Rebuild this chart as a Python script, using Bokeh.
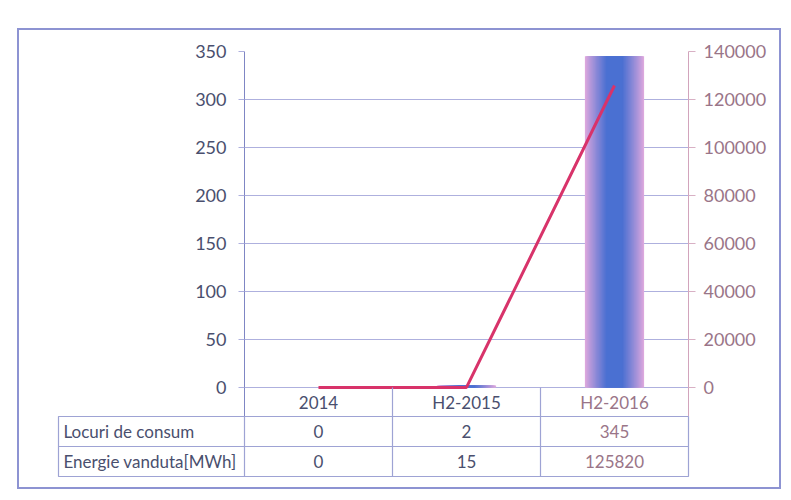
import numpy as np
from bokeh.plotting import figure
from bokeh.models import (Range1d, LinearAxis, FixedTicker, Column, BasicTickFormatter)
from bokeh.core.properties import value
from bokeh.embed import file_html
from bokeh.resources import INLINE

# ---------------- data ----------------
categories = ["2014", "H2-2015", "H2-2016"]
locuri_de_consum = [0, 2, 345]
energie_vanduta = [0, 15, 125820]
row_labels = ["Locuri de consum", "Energie vanduta[MWh]"]
left_ticks = [0, 50, 100, 150, 200, 250, 300, 350]
right_ticks = [0, 20000, 40000, 60000, 80000, 100000, 120000, 140000]

# ---------------- styles / layout ----------------
FONT = "Lato"
DARK = "#4a4f6e"
MAUVE = "#9a7588"
GRID = "#aeb0de"
TABLE_LINE = "#9ea3d4"
LINE_COL = "#d8336a"
col_text_colors = [DARK, DARK, MAUVE]

BORDER_L, BORDER_T, BW = 17, 28, 2
IN_L, IN_T, IN_R, IN_B = BORDER_L + BW, BORDER_T + BW, 779, 487
FRAME_L, FRAME_R = 244, 688
TOP_PX, ZERO_PX, HDR_PX, TABLE_B = 51, 387, 416, 476
TABLE_L = 58

n = len(categories)
unit = (FRAME_R - FRAME_L) / n
yscale = (ZERO_PX - TOP_PX) / left_ticks[-1]
y_lo = -(HDR_PX - ZERO_PX) / yscale
e_factor = right_ticks[-1] / left_ticks[-1]
xc = [i + 0.5 for i in range(n)]

# ---------------- chart figure ----------------
p = figure(frame_width=FRAME_R - FRAME_L, frame_height=HDR_PX - TOP_PX,
           min_border_left=FRAME_L - IN_L, min_border_right=IN_R - FRAME_R,
           min_border_top=TOP_PX - IN_T, min_border_bottom=0,
           x_range=Range1d(0, n), y_range=Range1d(y_lo, left_ticks[-1]),
           x_axis_location=None, toolbar_location=None, output_backend="svg",
           background_fill_color="white", border_fill_color="white",
           frame_align=False)
p.outline_line_color = None
p.extra_y_ranges = {"e": Range1d(y_lo * e_factor, right_ticks[-1])}

ax = p.yaxis[0]
ax.ticker = FixedTicker(ticks=left_ticks)
ax.major_label_text_font = FONT
ax.major_label_text_font_size = "18px"
ax.major_label_text_color = DARK
ax.axis_line_color = "#7f86c4"
ax.major_tick_line_color = GRID
ax.major_tick_out = 6
ax.major_tick_in = 0
ax.minor_tick_line_color = None
ax.major_label_standoff = 12

rax = LinearAxis(y_range_name="e", ticker=FixedTicker(ticks=right_ticks),
                 formatter=BasicTickFormatter(use_scientific=False))
rax.major_label_text_font = FONT
rax.major_label_text_font_size = "18px"
rax.major_label_text_color = MAUVE
rax.axis_line_color = "#d2a4bc"
rax.major_tick_line_color = "#d8b0c4"
rax.major_tick_out = 7
rax.major_tick_in = 0
rax.minor_tick_line_color = None
rax.major_label_standoff = 8
p.add_layout(rax, "right")

p.xgrid.grid_line_color = None
p.ygrid.grid_line_color = GRID
p.ygrid.grid_line_width = 1.2

# gradient-like bars (layered): lilac edges fading into a blue core
bar_w = 0.4
edge = np.array([0xdd, 0xa8, 0xdd], dtype=float)
core = np.array([0x4a, 0x70, 0xd2], dtype=float)
n_layers = 24
for i in range(n_layers):
    t = i / (n_layers - 1)
    w = bar_w * (1 - 0.72 * t)
    c = edge + (core - edge) * (t ** 0.9)
    col = "#%02x%02x%02x" % tuple(int(round(v)) for v in c)
    p.vbar(x=xc, top=locuri_de_consum, bottom=0, width=w,
           fill_color=col, line_color=None)

# line series
p.line(x=xc, y=energie_vanduta, y_range_name="e", line_color=LINE_COL, line_width=3)

# header row of data table (category names)
hdr_y = y_lo / 2
p.text(x=xc, y=[hdr_y] * n, text=categories, text_align="center", text_baseline="middle",
       text_font=value(FONT), text_font_size="17px", text_color=col_text_colors)
p.segment(x0=list(range(1, n)), y0=[0] * (n - 1), x1=list(range(1, n)), y1=[y_lo] * (n - 1),
          line_color=TABLE_LINE, line_width=1.2)

# ---------------- data table figure ----------------
t_left = -(FRAME_L - TABLE_L) / unit
nrows = len(row_labels)
t = figure(frame_width=FRAME_R - TABLE_L, frame_height=TABLE_B - HDR_PX,
           min_border_left=TABLE_L - IN_L, min_border_right=IN_R - FRAME_R,
           min_border_top=0, min_border_bottom=IN_B - TABLE_B,
           x_range=Range1d(t_left, n), y_range=Range1d(0, nrows),
           x_axis_location=None, y_axis_location=None,
           toolbar_location=None, output_backend="svg",
           background_fill_color="white", border_fill_color="white",
           frame_align=False)
t.grid.grid_line_color = None
t.outline_line_color = TABLE_LINE
t.outline_line_width = 1.2

series = [locuri_de_consum, energie_vanduta]
xs, ys, txt, cols = [], [], [], []
for r, vals in enumerate(series):
    yy = nrows - r - 0.5
    for j, v in enumerate(vals):
        xs.append(xc[j]); ys.append(yy); txt.append(str(v)); cols.append(col_text_colors[j])
t.text(x=xs, y=ys, text=txt, text_align="center", text_baseline="middle",
       text_font=value(FONT), text_font_size="17px", text_color=cols)
t.text(x=[t_left + 5 / unit] * nrows, y=[nrows - r - 0.5 for r in range(nrows)], text=row_labels,
       text_align="left", text_baseline="middle",
       text_font=value(FONT), text_font_size="17px", text_color=DARK)
t.segment(x0=[t_left] * (nrows - 1), y0=list(range(1, nrows)), x1=[n] * (nrows - 1),
          y1=list(range(1, nrows)), line_color=TABLE_LINE, line_width=1.2)
t.segment(x0=list(range(0, n)), y0=[0] * n, x1=list(range(0, n)), y1=[nrows] * n,
          line_color=TABLE_LINE, line_width=1.2)

layout = Column(p, t, spacing=0, margin=(BORDER_T, 0, 0, BORDER_L),
                styles={"border": f"{BW}px solid #8d93d2"})

with open("out.html", "w") as f:
    f.write(file_html(layout, INLINE))
